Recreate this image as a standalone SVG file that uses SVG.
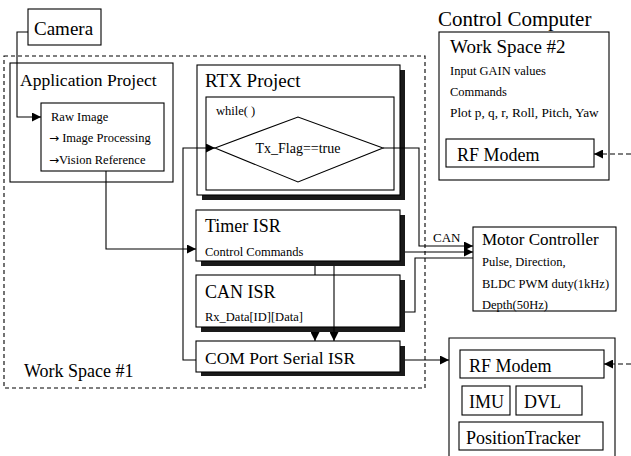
<svg xmlns="http://www.w3.org/2000/svg" width="631" height="456" viewBox="0 0 631 456">
  <defs>
    <marker id="arrow" viewBox="0 0 10 10" refX="10" refY="5" markerWidth="9" markerHeight="9" markerUnits="userSpaceOnUse" orient="auto">
      <path d="M0,0 L10,5 L0,10 z" fill="#000"/>
    </marker>
    <style>
      text { font-family: "Liberation Serif", "Times New Roman", serif; fill: #000; }
      .box { fill: #fff; stroke: #000; stroke-width: 1.1; }
      .shadow { fill: #1a1a1a; }
      .big { font-size: 18px; }
      .small { font-size: 12.5px; }
      .sym { font-family: "DejaVu Sans", sans-serif; font-size: 12px; }
      .line { fill: none; stroke: #000; stroke-width: 1.1; }
      .arr { fill: none; stroke: #000; stroke-width: 1.1; marker-end: url(#arrow); }
      .dash { fill: none; stroke: #000; stroke-width: 1.1; stroke-dasharray: 4 3; }
      .darr { fill: none; stroke: #000; stroke-width: 1.1; stroke-dasharray: 5 3; marker-end: url(#arrow); }
    </style>
  </defs>

  <!-- Work Space #1 boundary -->
  <g id="workspace1">
    <rect x="4" y="56" width="421" height="332" class="dash"/>
    <text x="24" y="377" class="big">Work Space #1</text>
  </g>

  <g id="camera">
    <rect x="28" y="9" width="73" height="36" class="box"/>
    <text x="34" y="35" style="font-size:19px">Camera</text>
  </g>

  <g id="application-project">
    <rect x="10" y="63" width="163" height="119" class="box"/>
    <text x="20" y="86" style="font-size:17.5px">Application Project</text>
  </g>

  <g id="raw-image">
    <rect x="41" y="103" width="123" height="68" class="box"/>
    <text x="51" y="121" class="small">Raw Image</text>
    <text x="49" y="142" class="small"><tspan class="sym">→</tspan> Image Processing</text>
    <text x="49" y="164" class="small"><tspan class="sym">→</tspan>Vision Reference</text>
  </g>

  <g id="rtx-project">
    <rect x="202" y="70" width="203" height="130" class="shadow"/>
    <rect x="197" y="65" width="203" height="130" class="box"/>
    <text x="205" y="87" style="font-size:19px">RTX Project</text>
    <rect x="206" y="97" width="188" height="93" class="box"/>
    <text x="216" y="115" class="small">while( )</text>
  </g>

  <g id="tx-flag">
    <polygon points="215,148 298,117 383,148 298,182" class="box"/>
    <text x="298" y="153" text-anchor="middle" style="font-size:14px">Tx_Flag==true</text>
  </g>

  <g id="timer-isr">
    <rect x="201" y="215" width="204" height="51" class="shadow"/>
    <rect x="196" y="210" width="204" height="51" class="box"/>
    <text x="205" y="232" class="big">Timer ISR</text>
    <text x="205" y="256" class="small">Control Commands</text>
  </g>

  <g id="can-isr">
    <rect x="201" y="280" width="204" height="52" class="shadow"/>
    <rect x="196" y="275" width="204" height="52" class="box"/>
    <text x="205" y="298" class="big">CAN ISR</text>
    <text x="205" y="321" class="small">Rx_Data[ID][Data]</text>
  </g>

  <g id="com-port-isr">
    <rect x="201" y="346" width="204" height="30" class="shadow"/>
    <rect x="196" y="341" width="204" height="31" class="box"/>
    <text x="205" y="364" style="font-size:17.5px">COM Port Serial ISR</text>
  </g>

  <g id="control-computer">
    <text x="438" y="26" style="font-size:21px">Control Computer</text>
    <rect x="439" y="32" width="170" height="148" class="box"/>
    <text x="450" y="53" style="font-size:19px">Work Space #2</text>
    <text x="450" y="75" class="small">Input GAIN values</text>
    <text x="450" y="96" class="small">Commands</text>
    <text x="450" y="117" style="font-size:13.3px">Plot p, q, r, Roll, Pitch, Yaw</text>
  </g>

  <g id="rf-modem-ground">
    <rect x="446" y="139" width="148" height="28" class="box"/>
    <text x="457" y="161" class="big">RF Modem</text>
  </g>

  <g id="motor-controller">
    <rect x="473" y="227" width="143" height="84" class="box"/>
    <text x="482" y="245" style="font-size:17px">Motor Controller</text>
    <text x="482" y="266" class="small">Pulse, Direction,</text>
    <text x="482" y="288" class="small">BLDC PWM duty(1kHz)</text>
    <text x="482" y="309" class="small">Depth(50Hz)</text>
  </g>

  <g id="vehicle">
    <path d="M449,456 V338 H615 V456" class="line"/>
  </g>

  <g id="rf-modem-vehicle">
    <rect x="460" y="350" width="144" height="28" class="box"/>
    <text x="469" y="372" class="big">RF Modem</text>
  </g>

  <g id="imu">
    <rect x="462" y="386" width="48" height="29" class="box"/>
    <text x="469" y="408" class="big">IMU</text>
  </g>

  <g id="dvl">
    <rect x="516" y="386" width="66" height="29" class="box"/>
    <text x="524" y="408" class="big">DVL</text>
  </g>

  <g id="position-tracker">
    <rect x="459" y="422" width="144" height="28" class="box"/>
    <text x="466" y="444" class="big">PositionTracker</text>
  </g>

  <g id="connectors">
    <path d="M28,32 H17 V117 H41" class="arr"/>
    <path d="M106,171 V249 H196" class="arr"/>
    <path d="M196,360 H183 V148 H215" class="arr"/>
    <path d="M383,148 H419 V246 H473" class="arr"/>
    <path d="M405,252 H473" class="arr"/>
    <path d="M405,312 H415 V258 H473" class="line"/>
    <path d="M315,266 V275" class="line"/>
    <path d="M315,332 V341" class="arr"/>
    <path d="M334,266 V341" class="arr"/>
    <path d="M405,360 H449" class="arr"/>
    <path d="M631,154 H594" class="darr"/>
    <path d="M631,364 H604" class="darr"/>
    <text x="433" y="242" style="font-size:13px">CAN</text>
  </g>
</svg>
